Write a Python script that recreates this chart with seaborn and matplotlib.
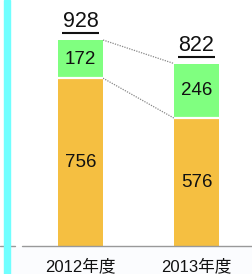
import matplotlib
matplotlib.use("Agg")
import matplotlib.pyplot as plt
import seaborn as sns
import pandas as pd

years = ["2012年度", "2013年度"]
bottom_vals = [756, 576]
top_vals = [172, 246]
totals = [b + t for b, t in zip(bottom_vals, top_vals)]

orange = "#F5BF41"
green = "#80FF80"
cyan = "#70FFFF"

sns.set_theme(style="white")
plt.rcParams["font.family"] = ["Liberation Sans", "Noto Sans CJK JP", "DejaVu Sans"]

W, H = 252, 274
fig = plt.figure(figsize=(W / 100, H / 100), dpi=100)

# axes geometry in pixels
base_px = 246
ax = fig.add_axes([0, (H - base_px) / H, 1, base_px / H])

df = pd.DataFrame({"year": years, "total": totals, "bottom": bottom_vals, "top": top_vals})

bw = 45 / 116
sns.barplot(data=df, x="year", y="total", color=green, width=bw, ax=ax,
            saturation=1, edgecolor="white", linewidth=0)
sns.barplot(data=df, x="year", y="bottom", color=orange, width=bw, ax=ax,
            saturation=1, edgecolor="white", linewidth=0)
# white separators between segments
for i, b in enumerate(bottom_vals):
    ax.plot([i - bw / 2, i + bw / 2], [b, b], color="white", lw=1.6, zorder=5,
            solid_capstyle="butt")

scale = 206 / 928  # px per unit
ax.set_xlim(-80.5 / 116, (252 - 80.5) / 116)
ax.set_ylim(0, base_px / scale)

# connectors
ax.plot([0 + bw / 2, 1 - bw / 2], [totals[0], totals[1]], color="#888888", lw=0.9,
        ls=(0, (1, 1)), zorder=1)
ax.plot([0 + bw / 2, 1 - bw / 2], [bottom_vals[0], bottom_vals[1]], color="#888888", lw=0.9,
        ls=(0, (1, 1)), zorder=1)

for i in range(len(years)):
    ax.text(i, bottom_vals[i] / 2, str(bottom_vals[i]), ha="center", va="center",
            fontsize=13.5, color="#111111")
    ax.text(i, bottom_vals[i] + top_vals[i] / 2, str(top_vals[i]), ha="center", va="center",
            fontsize=13.5, color="#111111")
    ax.text(i, totals[i] + 8 / scale, str(totals[i]), ha="center", va="bottom",
            fontsize=15.5, color="#111111")
    ax.plot([i - 18.5 / 116, i + 18.5 / 116], [totals[i] + 6.5 / scale] * 2, color="#111111",
            lw=1.5, solid_capstyle="butt")

ax.set_xlabel("")
ax.set_ylabel("")
ax.set_yticks([])
ax.tick_params(axis="x", length=0, pad=9, labelsize=12)
ax.set_xticks(range(len(years)))
ax.set_xticklabels(years, color="#111111")
for s in ["top", "right", "left", "bottom"]:
    ax.spines[s].set_visible(False)
ax.patch.set_alpha(0)

# baseline and left dash (figure pixel coords)
fy = (H - base_px) / H
fig.add_artist(plt.Line2D([22 / W, 1], [fy, fy], color="#999999", lw=1))
fig.add_artist(plt.Line2D([0, 15 / W], [fy, fy], color="#999999", lw=1))
# light strip below baseline
fig.add_artist(plt.Rectangle((10 / W, 0), 1, (H - base_px - 1) / H, color="#FBFCFE",
                             zorder=-5, transform=fig.transFigure))
# cyan bar
fig.add_artist(plt.Rectangle((4 / W, 0), 6 / W, 1, color=cyan, zorder=10,
                             transform=fig.transFigure))

fig.savefig("out.png", dpi=100)
